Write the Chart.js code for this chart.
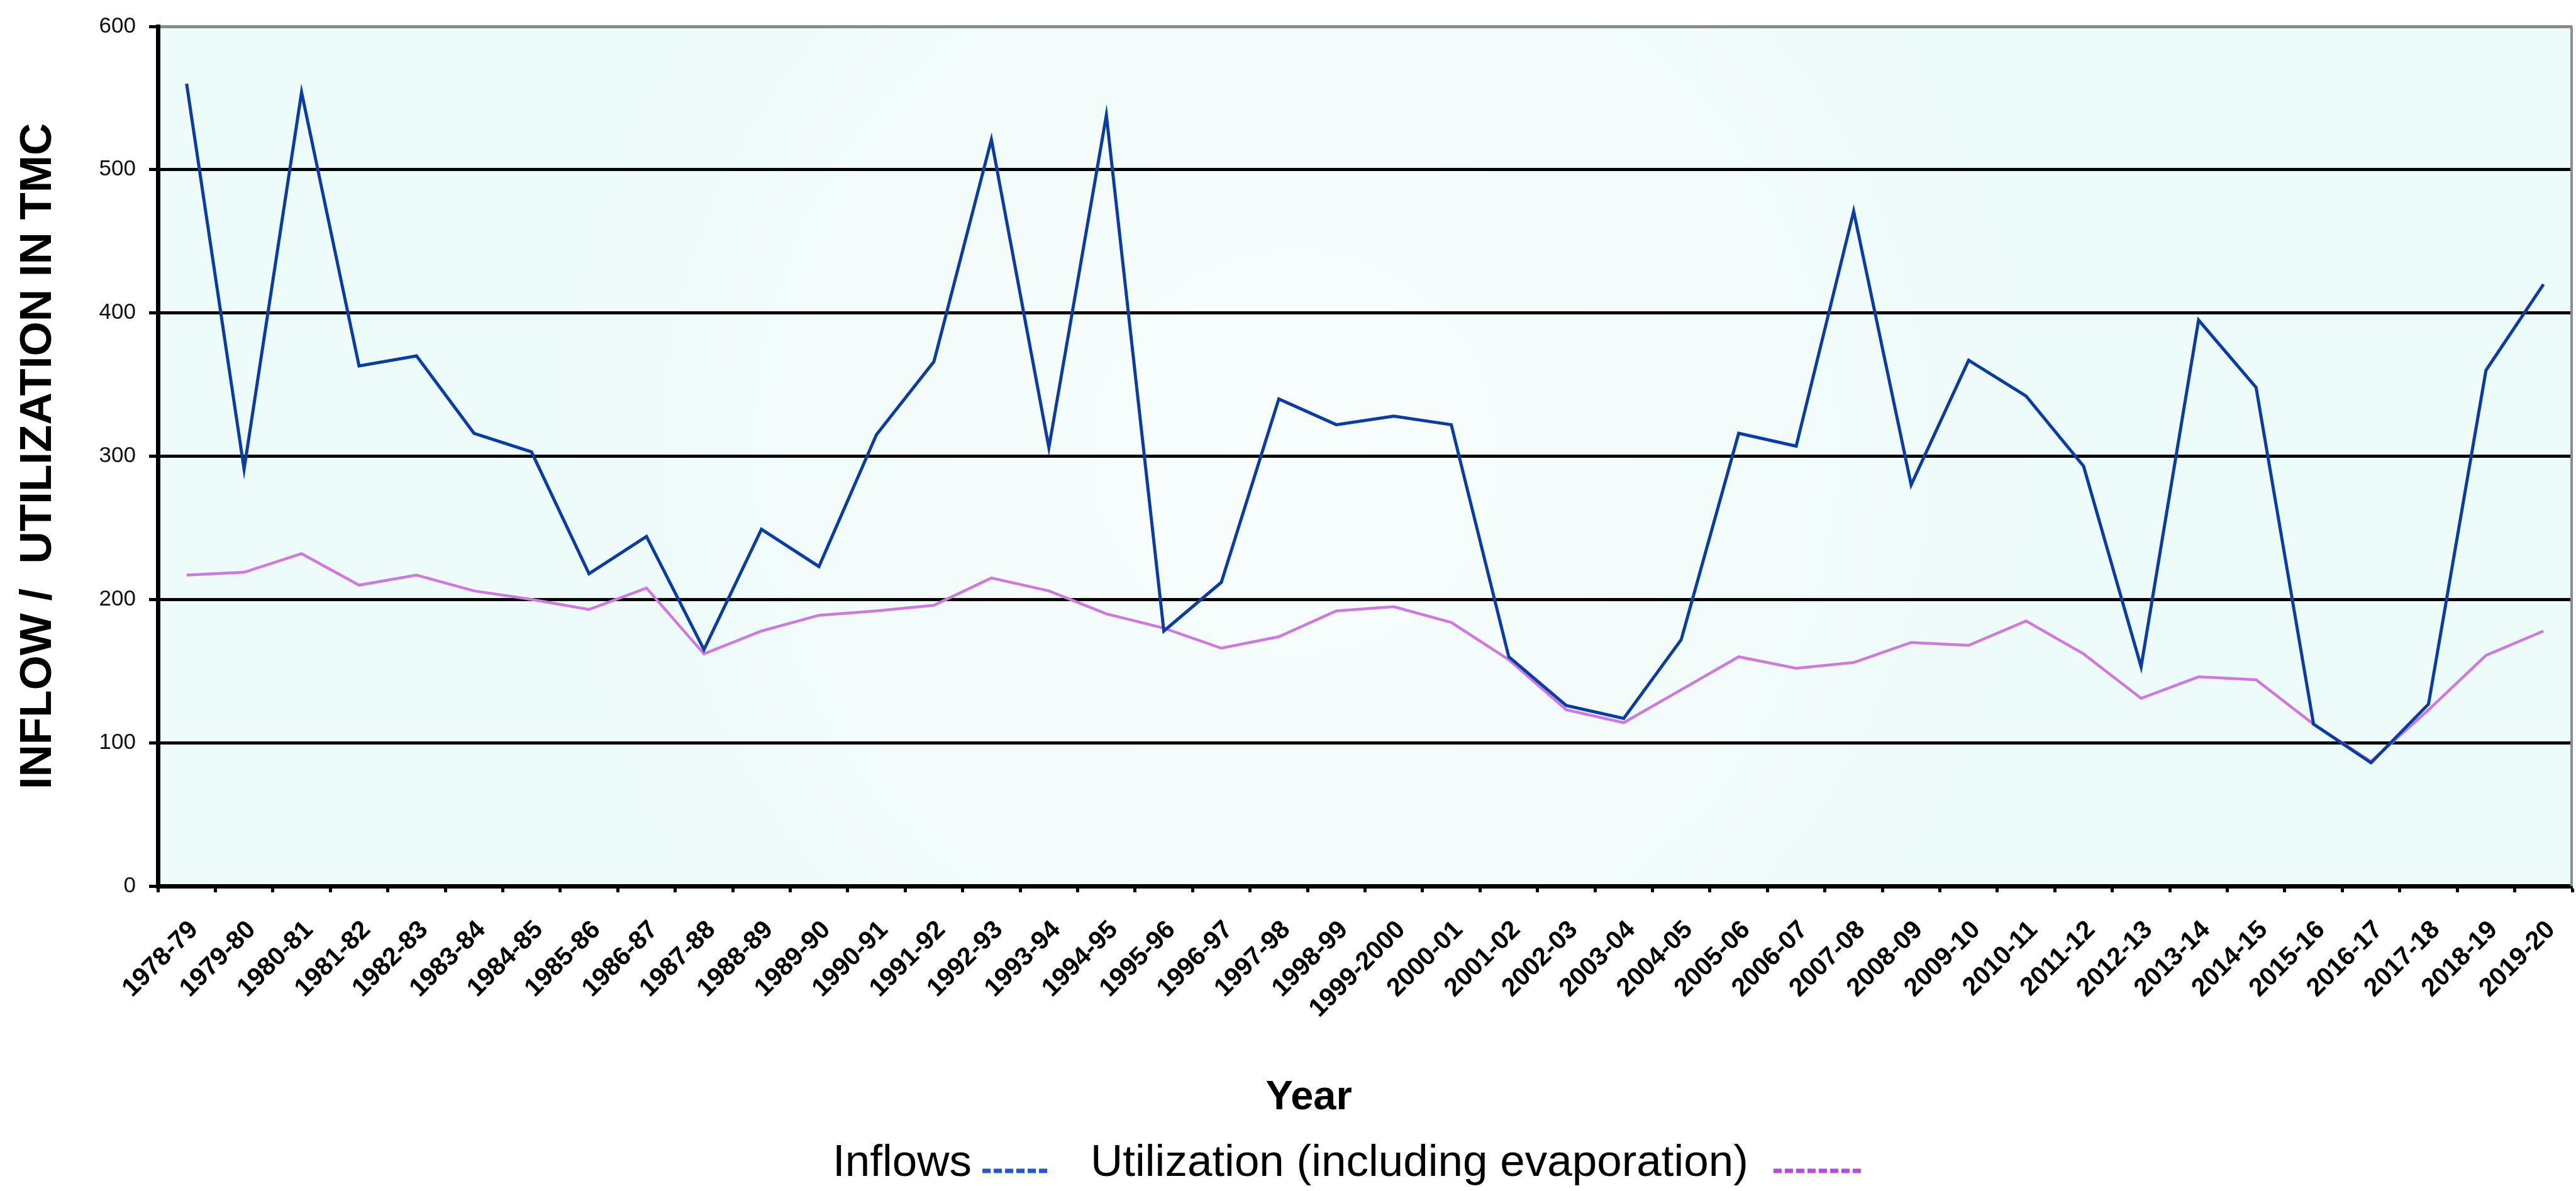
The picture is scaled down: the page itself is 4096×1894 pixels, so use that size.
<!DOCTYPE html>
<html>
<head>
<meta charset="utf-8">
<script src="https://cdn.jsdelivr.net/npm/chart.js@4.4.1/dist/chart.umd.min.js"></script>
<style>
  html, body { margin: 0; padding: 0; background: #fff; }
  #wrap { width: 4096px; height: 1894px; }
</style>
</head>
<body>
<div id="wrap"><canvas id="flowChart" width="4096" height="1894"></canvas></div>
<script>
// values (TMC)
const years = [
  '1978-79', '1979-80', '1980-81', '1981-82', '1982-83', '1983-84', '1984-85',
  '1985-86', '1986-87', '1987-88', '1988-89', '1989-90', '1990-91', '1991-92',
  '1992-93', '1993-94', '1994-95', '1995-96', '1996-97', '1997-98', '1998-99',
  '1999-2000', '2000-01', '2001-02', '2002-03', '2003-04', '2004-05', '2005-06',
  '2006-07', '2007-08', '2008-09', '2009-10', '2010-11', '2011-12', '2012-13',
  '2013-14', '2014-15', '2015-16', '2016-17', '2017-18', '2018-19', '2019-20'
];
const inflows = [
  560, 291, 554, 363, 370, 316, 303, 218, 244, 165, 249, 223, 315, 366,
  521, 306, 538, 178, 212, 340, 322, 328, 322, 160, 126, 117, 172, 316,
  307, 471, 280, 367, 342, 293, 153, 395, 348, 113, 86, 127, 360, 420
];
const utilization = [
  217, 219, 232, 210, 217, 206, 200, 193, 208, 162, 178, 189, 192, 196,
  215, 206, 190, 180, 166, 174, 192, 195, 184, 158, 123, 114, 137, 160,
  152, 156, 170, 168, 185, 162, 131, 146, 144, 113, 87, 123, 161, 178
];
const yTicks = [0, 100, 200, 300, 400, 500, 600];
const seriesNames = ['Inflows', 'Utilization (including evaporation)'];

const FONT = "'Liberation Sans', Arial, Helvetica, sans-serif";
const LINE_COLORS = ['#0a3ca6', '#cf78e0'];
const LEGEND_COLORS = ['#2456cc', '#b04fd6'];
const MARKER_LEN = [107, 144];
const TEXT_GAP = [17, 40];

// light cyan plot area with a faint lighter centre, grey right border
const plotBackground = {
  id: 'plotBackground',
  beforeDraw(chart) {
    const { ctx, chartArea: a } = chart;
    ctx.save();
    ctx.fillStyle = '#edfbfa';
    ctx.fillRect(a.left, a.top, a.width, a.height);
    const g = ctx.createRadialGradient(2060, 720, 80, 2060, 720, 1250);
    g.addColorStop(0, 'rgba(255,255,255,0.6)');
    g.addColorStop(1, 'rgba(255,255,255,0)');
    ctx.fillStyle = g;
    ctx.fillRect(a.left, a.top, a.width, a.height);
    ctx.restore();
  },
  beforeDatasetsDraw(chart) {
    const { ctx, chartArea: a } = chart;
    ctx.save();
    ctx.strokeStyle = '#8c8c8c';
    ctx.lineWidth = 4;
    ctx.beginPath();
    ctx.moveTo(a.right - 1, a.top);
    ctx.lineTo(a.right - 1, a.bottom);
    ctx.stroke();
    ctx.restore();
  }
};

// legend with the dashed sample after the text, as in the original
const trailingLegend = {
  id: 'trailingLegend',
  afterDraw(chart) {
    const { ctx } = chart;
    const y = chart.height - 44;
    ctx.save();
    ctx.font = '71px ' + FONT;
    ctx.textBaseline = 'middle';
    ctx.textAlign = 'left';
    const items = chart.data.datasets.map((ds, i) => ({
      text: ds.label,
      w: ctx.measureText(ds.label).width,
      color: LEGEND_COLORS[i],
      len: MARKER_LEN[i],
      gap: TEXT_GAP[i]
    }));
    const itemGap = 65;
    let total = 0;
    items.forEach((it, i) => {
      total += it.w + it.gap + it.len + (i < items.length - 1 ? itemGap : 0);
    });
    let x = 2144 - total / 2;
    items.forEach(it => {
      ctx.fillStyle = '#000';
      ctx.fillText(it.text, x, y);
      x += it.w + it.gap;
      ctx.strokeStyle = it.color;
      ctx.lineWidth = 7;
      ctx.setLineDash([13, 5]);
      ctx.beginPath();
      ctx.moveTo(x, y + 12);
      ctx.lineTo(x + it.len, y + 12);
      ctx.stroke();
      ctx.setLineDash([]);
      x += it.len + itemGap;
    });
    ctx.restore();
  }
};

new Chart(document.getElementById('flowChart').getContext('2d'), {
  type: 'line',
  data: {
    labels: years,
    datasets: [
      {
        label: seriesNames[0],
        data: inflows,
        borderColor: LINE_COLORS[0],
        borderWidth: 5,
        pointRadius: 0,
        tension: 0,
        fill: false
      },
      {
        label: seriesNames[1],
        data: utilization,
        borderColor: LINE_COLORS[1],
        borderWidth: 4.5,
        pointRadius: 0,
        tension: 0,
        fill: false
      }
    ]
  },
  options: {
    responsive: false,
    animation: false,
    devicePixelRatio: 1,
    layout: { padding: { top: 34, right: 6, bottom: 109, left: 0 } },
    plugins: {
      legend: { display: false },
      tooltip: { enabled: false },
      title: {
        display: true,
        text: '    Year',
        position: 'bottom',
        color: '#000',
        font: { family: FONT, size: 65, weight: 'bold', lineHeight: 1.2 },
        padding: { top: 68, bottom: 0 }
      }
    },
    scales: {
      x: {
        offset: true,
        grid: {
          display: true,
          offset: true,
          drawOnChartArea: false,
          drawTicks: true,
          tickLength: 10,
          tickWidth: 5,
          tickColor: '#000'
        },
        border: { display: true, color: '#000', width: 7 },
        ticks: {
          autoSkip: false,
          minRotation: 45,
          maxRotation: 45,
          padding: 36,
          labelOffset: 12,
          color: '#000',
          font: { family: FONT, size: 41, weight: 'bold', lineHeight: 1.2 }
        },
        afterFit(scale) {
          scale.height = 230;
          scale.paddingLeft = 0;
          scale.paddingRight = 0;
        }
      },
      y: {
        min: 0,
        max: 600,
        afterBuildTicks(axis) { axis.ticks = yTicks.map(v => ({ value: v })); },
        ticks: {
          padding: 21,
          color: '#111',
          font: { family: FONT, size: 35 }
        },
        grid: {
          color: c => (c.tick && c.tick.value === 600 ? '#8c8c8c' : '#000'),
          lineWidth: 5,
          tickLength: 14,
          tickColor: '#000',
          tickWidth: 5
        },
        border: { display: true, color: '#000', width: 7 },
        title: {
          display: true,
          text: 'INFLOW /  UTILIZATION IN TMC',
          color: '#000',
          font: { family: FONT, size: 71, weight: 'bold', lineHeight: 1.2 },
          padding: { top: 19, bottom: 0 }
        },
        afterFit(scale) { scale.width = 251; }
      }
    }
  },
  plugins: [plotBackground, trailingLegend]
});
</script>
</body>
</html>
